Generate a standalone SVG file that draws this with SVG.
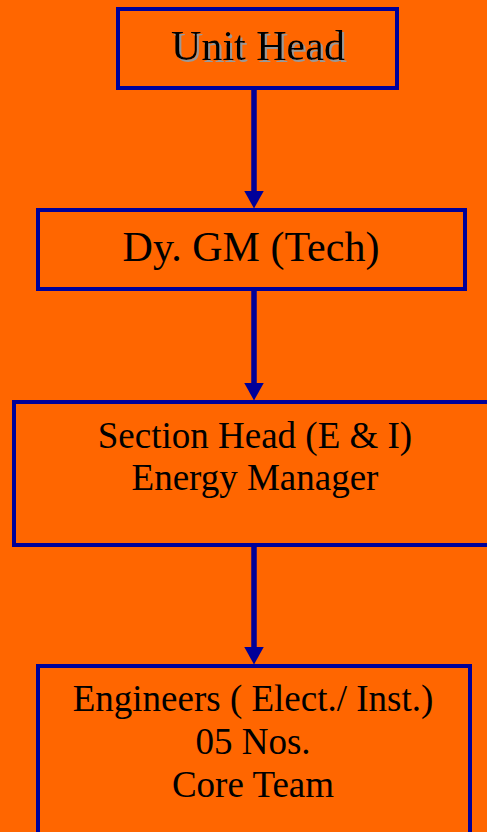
<svg xmlns="http://www.w3.org/2000/svg" width="487" height="832" viewBox="0 0 487 832">
  <style>
    .box { fill: #FF6600; stroke: #000099; stroke-width: 4; }
    .t { font-family: "Liberation Serif", "Times New Roman", serif; fill: #000000; text-anchor: middle; }
    .big { font-size: 42px; }
    .mid { font-size: 37px; }
    .conn { stroke: #000099; stroke-width: 5.5; fill: none; }
  </style>
  <defs>
    <marker id="arrow" markerUnits="userSpaceOnUse" viewBox="0 0 18 20" markerWidth="18" markerHeight="20" refX="0.5" refY="10" orient="auto">
      <path d="M0,0 L18,10 L0,20 Z" fill="#000099"/>
    </marker>
    <filter id="shadow" x="-10%" y="-20%" width="120%" height="140%">
      <feDropShadow dx="2" dy="2" stdDeviation="0.3" flood-color="#999999" flood-opacity="1"/>
    </filter>
  </defs>
  <rect x="0" y="0" width="487" height="832" fill="#FF6600"/>

  <g id="connectors">
    <line class="conn" x1="254" y1="90" x2="254" y2="191" marker-end="url(#arrow)"/>
    <line class="conn" x1="254" y1="282" x2="254" y2="383" marker-end="url(#arrow)"/>
    <line class="conn" x1="254" y1="547" x2="254" y2="647" marker-end="url(#arrow)"/>
  </g>

  <g id="unit-head">
    <rect class="box" x="118" y="9" width="279" height="79"/>
    <text class="t big" x="258" y="60" filter="url(#shadow)">Unit Head</text>
  </g>

  <g id="dy-gm">
    <rect class="box" x="38" y="210" width="427" height="79"/>
    <text class="t big" x="251" y="261">Dy. GM (Tech)</text>
  </g>

  <g id="section-head">
    <rect class="box" x="14" y="402" width="490" height="143"/>
    <text class="t mid" x="255" y="448">Section Head (E &amp; I)</text>
    <text class="t mid" x="255" y="490">Energy Manager</text>
  </g>

  <g id="engineers">
    <rect class="box" x="38" y="666" width="432" height="190"/>
    <text class="t mid" x="253" y="711">Engineers ( Elect./ Inst.)</text>
    <text class="t mid" x="253" y="754">05 Nos.</text>
    <text class="t mid" x="253" y="797">Core Team</text>
  </g>
</svg>
